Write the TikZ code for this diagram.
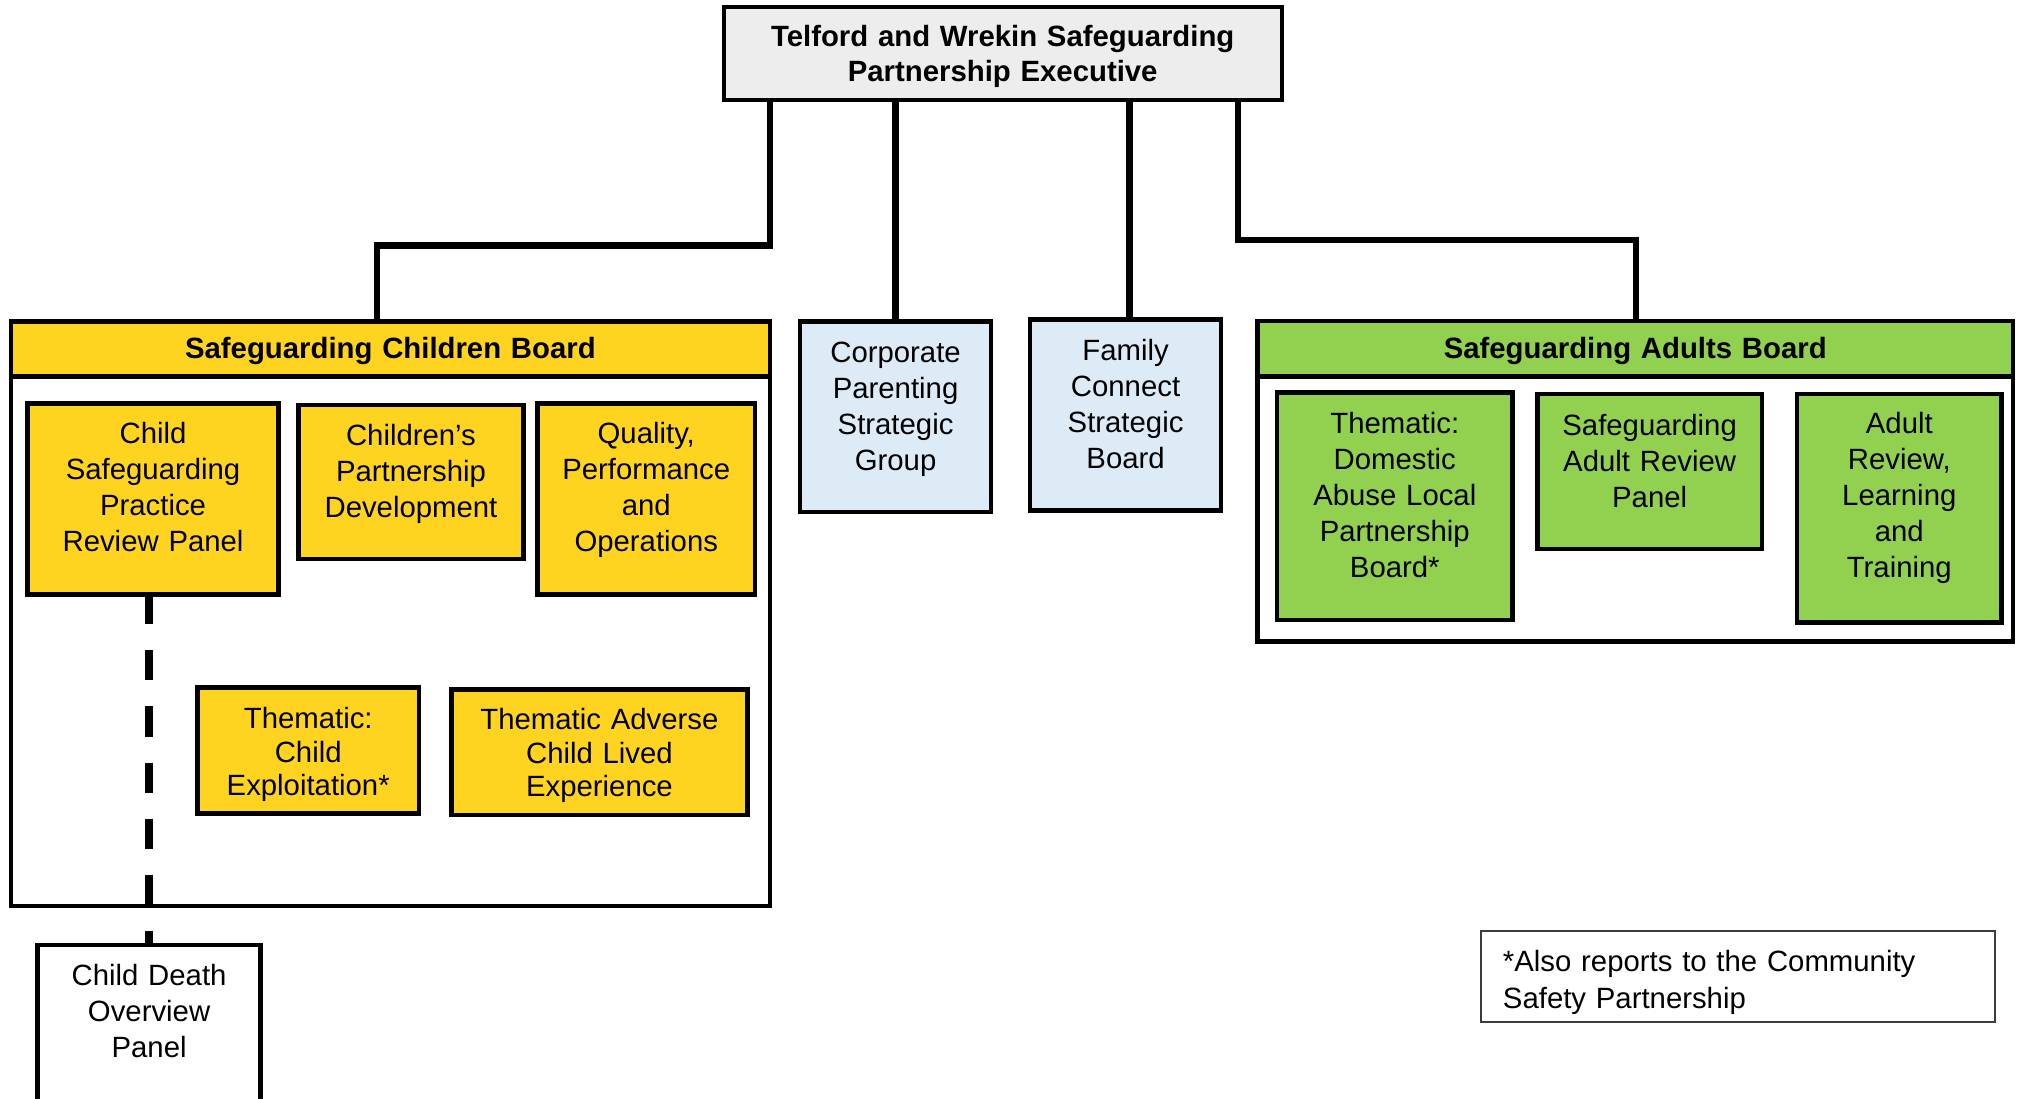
\documentclass[tikz,border=0pt]{standalone}
\usepackage{fontspec}
\setmainfont{Liberation Sans}
\usetikzlibrary{fit}
\definecolor{ygold}{RGB}{255,212,32}
\definecolor{sgreen}{RGB}{146,208,80}
\definecolor{lblue}{RGB}{221,235,247}
\definecolor{lgray}{RGB}{237,237,237}
\definecolor{dgray}{RGB}{60,60,60}
\begin{document}
\begin{tikzpicture}[x=0.5pt,y=-0.5pt,
  box/.style={draw=black, line width=1.8pt, inner sep=0pt, outer sep=0pt},
  ybox/.style={box, fill=ygold},
  gbox/.style={box, fill=sgreen},
  bbox/.style={box, fill=lblue},
  wbox/.style={box, fill=white},
  txt/.style={font=\fontsize{11.4}{14}\selectfont, align=center, text width=115pt, inner sep=0pt, anchor=base},
  tighttxt/.style={txt, font=\fontsize{11.4}{13}\selectfont},
  ttl/.style={font=\bfseries\fontsize{11.4}{13.5}\selectfont, align=center, text width=250pt, inner sep=0pt, anchor=base},
  conn/.style={line width=2.5pt},
  dashconn/.style={line width=2.9pt, dash pattern=on 11.7pt off 10.1pt},
]
\useasboundingbox[fill=white] (0,0) rectangle (1568,854);

% junction coordinates
\coordinate (c1) at (598.6,0);
\coordinate (j1) at (293,191);
\coordinate (c3) at (878,0);
\coordinate (c4) at (962.2,0);
\coordinate (j4) at (1272,186.6);

% boxes
\node[box, fill=lgray, line width=1.5pt, fit={(562.6,5.7) (996.4,77.7)}] (exec) {};
\node[wbox, fit={(8.5,250) (598.6,704.3)}] (scb) {};
\node[ybox, fit={(8.5,250) (598.6,292.8)}] (scbh) {};
\node[wbox, fit={(977.4,249.5) (1565,498.8)}] (sab) {};
\node[gbox, fit={(977.4,249.5) (1565,292.8)}] (sabh) {};
\node[bbox, fit={(622,250) (770.3,398)}] (corp) {};
\node[bbox, fit={(800.6,248.5) (949.3,397)}] (fam) {};

\node[ybox, fit={(21.3,313.5) (216.6,462)}] (cspr) {};
\node[ybox, fit={(232,314.8) (406.9,434.5)}] (cpd) {};
\node[ybox, fit={(417.7,313.5) (587,462)}] (qpo) {};
\node[ybox, fit={(153.5,534.3) (325.7,632.3)}] (tce) {};
\node[ybox, fit={(351.2,535.9) (581,633.6)}] (tacle) {};
\node[wbox, fit={(29,734.6) (202.7,880)}] (cdop) {};

\node[gbox, fit={(992.6,305.3) (1176,482)}] (dom) {};
\node[gbox, fit={(1195,306.3) (1369.8,426.8)}] (sarp) {};
\node[gbox, fit={(1397,306.3) (1556,483.8)}] (arlt) {};

\node[draw=dgray, line width=0.7pt, inner sep=0pt, fit={(1151,723.7) (1551,794.2)}] (legend) {};

% connectors
\draw[conn] (exec.south -| c1) |- (j1) -- (scbh.north -| j1);
\draw[conn] (exec.south -| corp.north) -- (corp.north);
\draw[conn] (exec.south -| c3) -- (fam.north -| c3);
\draw[conn] (exec.south -| c4) |- (j4) -- (sabh.north -| j4);
\draw[dashconn] (cspr.south -| cdop.north) -- (cdop.north);

% texts
\node[ttl] (exec-t) at (779.5,36.5) {Telford and Wrekin Safeguarding\\Partnership Executive};
\node[ttl] (scbh-t) at (303.5,278.5) {Safeguarding Children Board};
\node[ttl] (sabh-t) at (1271.2,278.5) {Safeguarding Adults Board};

\node[txt] (cspr-t) at (119,345) {Child\\Safeguarding\\Practice\\Review Panel};
\node[txt] (cpd-t) at (319.5,346) {Children’s\\Partnership\\Development};
\node[txt] (qpo-t) at (502.4,345) {Quality,\\Performance\\and\\Operations};
\node[tighttxt] (tce-t) at (239.6,566.4) {Thematic:\\Child\\Exploitation*};
\node[tighttxt] (tacle-t) at (466,567.2) {Thematic Adverse\\Child Lived\\Experience};
\node[txt] (cdop-t) at (115.9,766) {Child Death\\Overview\\Panel};

\node[txt] (corp-t) at (696.2,282) {Corporate\\Parenting\\Strategic\\Group};
\node[txt] (fam-t) at (875,280) {Family\\Connect\\Strategic\\Board};

\node[txt] (dom-t) at (1084.3,337) {Thematic:\\Domestic\\Abuse Local\\Partnership\\Board*};
\node[txt] (sarp-t) at (1282.4,338.4) {Safeguarding\\Adult Review\\Panel};
\node[txt] (arlt-t) at (1476.5,337) {Adult\\Review,\\Learning\\and\\Training};

\node[font=\fontsize{11.4}{14.2}\selectfont, align=left, text width=200pt, inner sep=0pt, anchor=base west] (legend-t) at (1168,755.6) {*Also reports to the Community\\Safety Partnership};
\end{tikzpicture}
\end{document}
